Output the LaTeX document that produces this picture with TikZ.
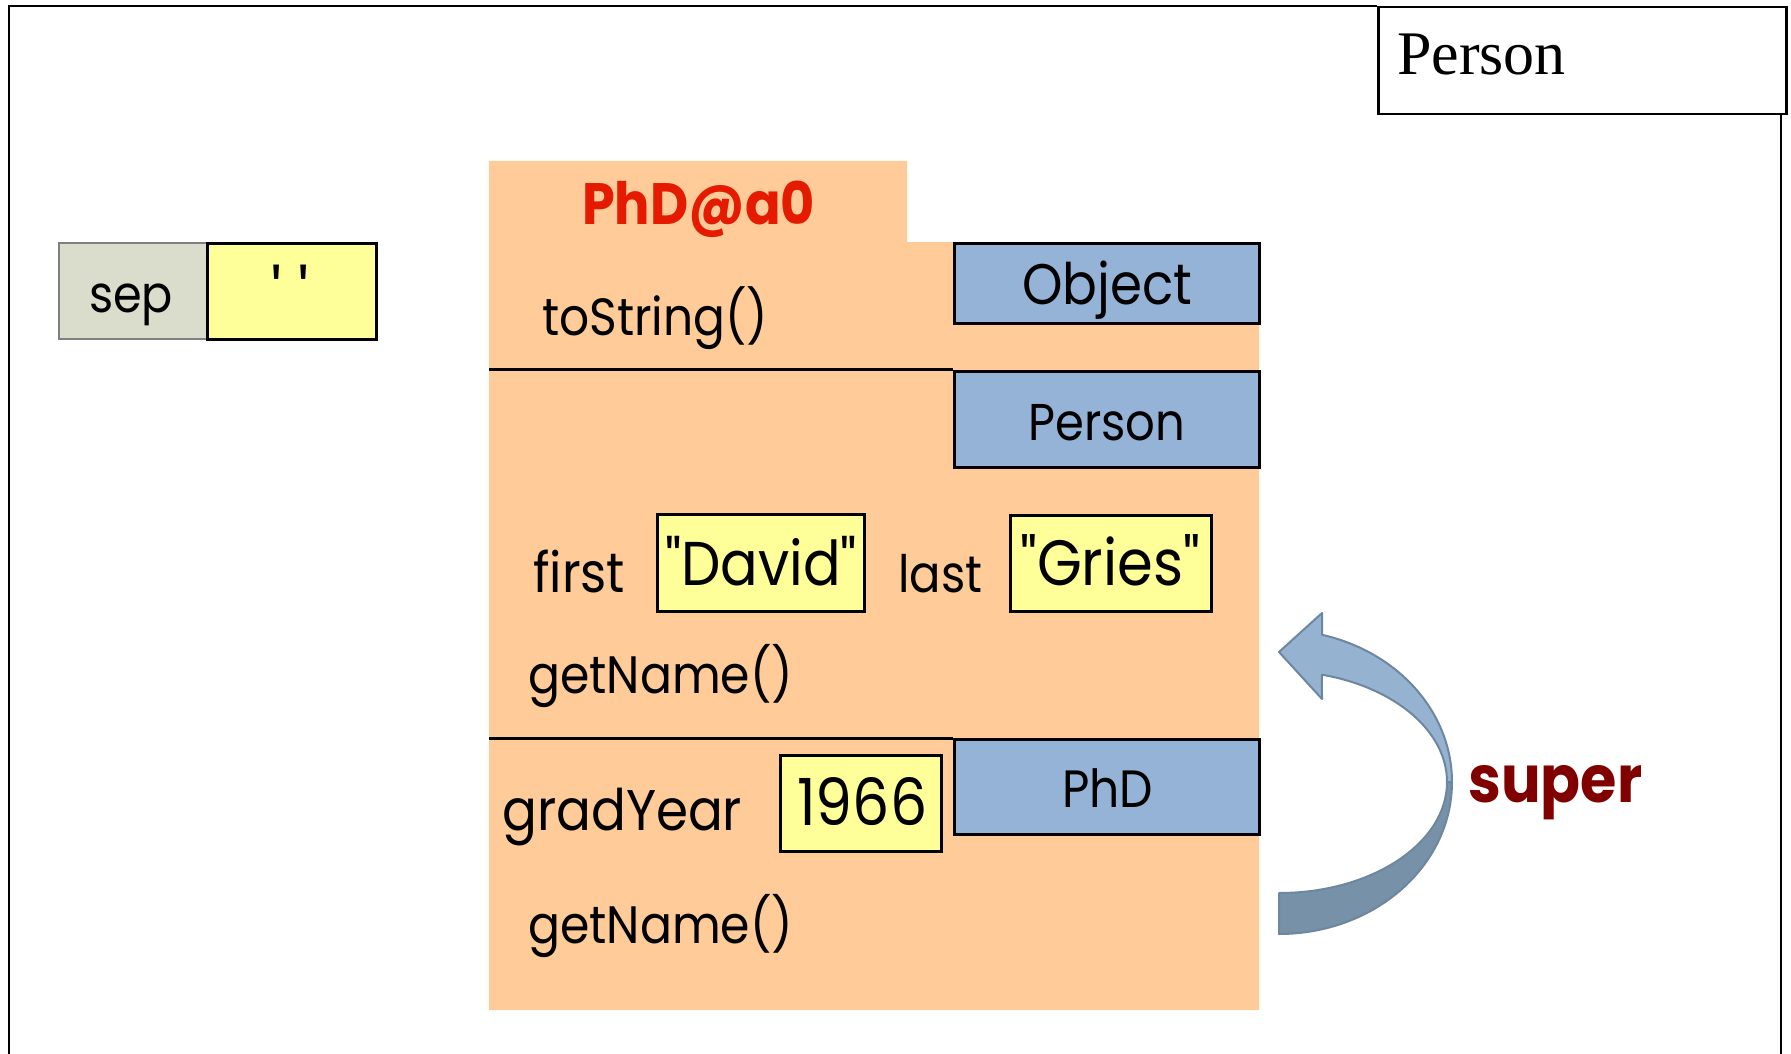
\documentclass[tikz,border=0pt]{standalone}
\usepackage{fontspec}
\usepackage{graphicx}
\newfontfamily\fut[Ligatures=TeXOff,FakeStretch=0.9]{Poppins}
\newfontfamily\tms{Liberation Serif}
\definecolor{objorange}{HTML}{FFCC99}
\definecolor{valyellow}{HTML}{FFFF99}
\definecolor{clsblue}{HTML}{95B3D7}
\definecolor{sepgray}{HTML}{DADDCC}
\definecolor{arrlight}{HTML}{95B3D1}
\definecolor{arrdark}{HTML}{7791A8}
\definecolor{arredge}{HTML}{6E87A0}
\definecolor{namered}{HTML}{E41B00}
\definecolor{supred}{HTML}{800000}
\newcommand{\fitw}[2]{\resizebox{#1pt}{!}{\fontsize{40}{48}\selectfont #2}}
\tikzset{
  lbl/.style={anchor=base west, inner sep=0pt, font=\fut},
  valbox/.style={draw=black, fill=valyellow, line width=2.5pt, anchor=north west, inner sep=0pt},
  clsbox/.style={draw=black, fill=clsblue, line width=2.5pt, anchor=north west, inner sep=0pt},
  divider/.style={line width=3pt, black},
}
\begin{document}
\begin{tikzpicture}[x=1pt,y=-1pt]
\useasboundingbox (0,0) rectangle (1791,1054);
% outer frame
\draw[line width=2.5pt] (9,1070) -- (9,6) -- (1377,6);
\draw[line width=2.5pt] (1781,113) -- (1781,1070);
% title box
\node[draw=black, line width=2.5pt, anchor=north west, minimum width=408pt, minimum height=107pt, inner sep=0pt] (titlebox) at (1377,6) {};
\node[anchor=base west, inner sep=0pt, font=\tms\fontsize{62}{70}\selectfont] (title) at (1397,75) {Person};
% sep variable
\node[draw=black!50, fill=sepgray, line width=2pt, anchor=north west, minimum width=148pt, minimum height=96pt, inner sep=0pt] (sepname) at (58,242) {};
\node[valbox, minimum width=169pt, minimum height=96pt] (sepval) at (206,242) {};
\node[lbl] (septext) at (89,312) {\fitw{84}{sep}};
\node[lbl] (sepquote) at (271,322) {\fitw{38}{' '}};
% object
\fill[objorange] (489,161) -- (907,161) -- (907,242) -- (1259,242) -- (1259,1010) -- (489,1010) -- cycle;
\coordinate (d1a) at (489,369);
\coordinate (d1b) at (953,369);
\coordinate (d2a) at (489,738);
\coordinate (d2b) at (953,738);
\draw[divider] (d1a) -- (d1b);
\draw[divider] (d2a) -- (d2b);
\node[lbl, text=namered, font=\fut\bfseries] (objname) at (582,224) {\fitw{233}{PhD@a0}};
% partitions
\node[clsbox, minimum width=305pt, minimum height=80pt] (objbox) at (953,242) {};
\node[clsbox, minimum width=305pt, minimum height=96pt] (perbox) at (953,370) {};
\node[clsbox, minimum width=305pt, minimum height=95pt] (phdbox) at (953,738) {};
\node[lbl] (objtext) at (1022,304) {\fitw{170}{Object}};
\node[lbl] (pertext) at (1028,440) {\fitw{157}{Person}};
\node[lbl] (phdtext) at (1062,807) {\fitw{91}{PhD}};
\node[lbl] (tostr) at (542,335) {\fitw{226}{toString()}};
% fields
\node[valbox, minimum width=207pt, minimum height=97pt] (davidbox) at (656,513) {};
\node[valbox, minimum width=201pt, minimum height=96pt] (griesbox) at (1009,514) {};
\node[valbox, minimum width=161pt, minimum height=96pt] (yearbox) at (779,754) {};
\node[lbl] (first) at (533,592) {\fitw{92}{first}};
\node[lbl] (david) at (665,585) {\fitw{192}{"David"}};
\node[lbl] (last) at (898,592) {\fitw{84}{last}};
\node[lbl] (gries) at (1020,585) {\fitw{180}{"Gries"}};
\node[lbl] (getname1) at (528,693) {\fitw{265}{getName()}};
\node[lbl] (gradyear) at (502,830) {\fitw{240}{gradYear}};
\node[lbl] (year) at (797,825) {\fitw{130}{1966}};
\node[lbl] (getname2) at (528,943) {\fitw{265}{getName()}};
% super arrow
\filldraw[fill=arrdark, draw=arredge, line width=2pt, line join=round]
  (1279,934) arc[start angle=90, end angle=0, x radius=173, y radius=152]
  -- (1447,782) arc[start angle=0, end angle=90, x radius=168, y radius=111]
  -- cycle;
\filldraw[fill=arrlight, draw=arredge, line width=2pt, line join=round]
  (1322,634.8) arc[start angle=-75.6, end angle=0, x radius=173, y radius=152]
  -- (1447,782) arc[start angle=0, end angle=-75.2, x radius=168, y radius=111]
  -- (1322,699) -- (1279,652) -- (1322,613) -- cycle;
\node[lbl, text=supred, font=\fut\bfseries] (super) at (1468,802) {\fitw{174}{super}};
\end{tikzpicture}
\end{document}
